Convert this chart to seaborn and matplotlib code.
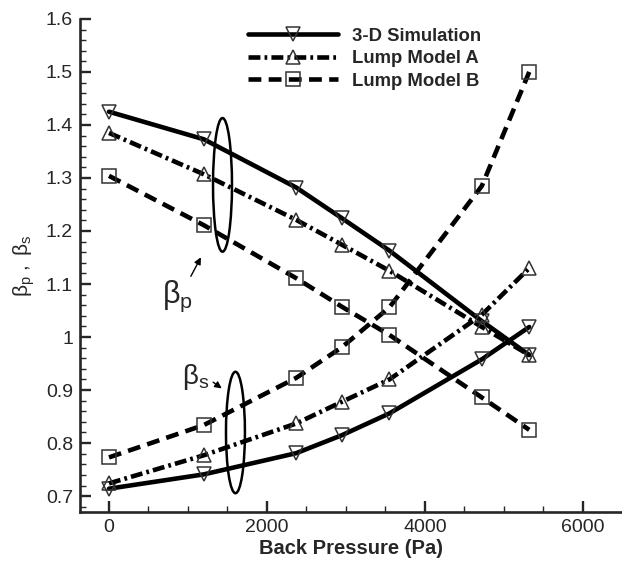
import numpy as np
import pandas as pd
import matplotlib
matplotlib.use("Agg")
import matplotlib.pyplot as plt
from matplotlib.patches import Ellipse
from matplotlib.ticker import MultipleLocator, FuncFormatter
import seaborn as sns

# Back pressure (Pa) at which each case was evaluated
back_pressure = [0, 1200, 2370, 2950, 3550, 4720, 5320]

# Primary-flow coefficient beta_p
beta_p_sim = [1.425, 1.373, 1.282, 1.224, 1.163, 1.030, 0.966]
beta_p_a = [1.385, 1.307, 1.221, 1.174, 1.125, 1.019, 0.966]
beta_p_b = [1.304, 1.211, 1.111, 1.057, 1.004, 0.886, 0.825]

# Secondary-flow coefficient beta_s
beta_s_sim = [0.714, 0.741, 0.781, 0.815, 0.856, 0.958, 1.019]
beta_s_a = [0.724, 0.777, 0.837, 0.878, 0.920, 1.042, 1.130]
beta_s_b = [0.773, 0.834, 0.923, 0.981, 1.056, 1.285, 1.500]

series_names = ["3-D Simulation", "Lump Model A", "Lump Model B"]

sns.set_style("ticks")
plt.rcParams["font.family"] = ["Liberation Sans", "DejaVu Sans"]
plt.rcParams["mathtext.fontset"] = "custom"
plt.rcParams["mathtext.rm"] = "Liberation Sans"
plt.rcParams["mathtext.it"] = "Liberation Sans"

fig = plt.figure(figsize=(6.22, 5.61), dpi=100)
ax = fig.add_axes([0.1286, 0.0873, 0.8714, 0.8790])

lw = 3.3
styles = {
    "3-D Simulation": dict(marker="v", linestyle="-"),
    "Lump Model A": dict(marker="^", linestyle=(0, (2.6, 0.9, 0.6, 0.9))),
    "Lump Model B": dict(marker="s", linestyle=(0, (2.8, 1.6))),
}
curves = {
    "3-D Simulation": (beta_p_sim, beta_s_sim),
    "Lump Model A": (beta_p_a, beta_s_a),
    "Lump Model B": (beta_p_b, beta_s_b),
}

for name in series_names:
    bp, bs = curves[name]
    for k, vals in enumerate((bp, bs)):
        df = pd.DataFrame({"x": back_pressure, "y": vals})
        sns.lineplot(
            data=df, x="x", y="y", ax=ax, sort=False,
            color="black", lw=lw, marker=styles[name]["marker"],
            linestyle=styles[name]["linestyle"],
            markersize=9.5, markerfacecolor="none", markeredgecolor="#333333",
            markeredgewidth=1.1, label=name if k == 0 else None,
        )

ax.set_xlim(-367, 6494)
ax.set_ylim(0.67, 1.6)
ax.xaxis.set_major_locator(MultipleLocator(2000))
ax.xaxis.set_minor_locator(MultipleLocator(500))
ax.yaxis.set_major_locator(MultipleLocator(0.1))
ax.yaxis.set_minor_locator(MultipleLocator(0.02))
ax.yaxis.set_major_formatter(FuncFormatter(lambda v, p: f"{v:g}"))
ax.xaxis.set_major_formatter(FuncFormatter(lambda v, p: f"{v:g}"))

for side in ("top", "right"):
    ax.spines[side].set_visible(False)
for side in ("left", "bottom"):
    ax.spines[side].set_linewidth(1.9)
ax.tick_params(which="major", direction="in", length=8, width=1.7,
               labelsize=14, pad=5)
ax.tick_params(which="minor", direction="in", length=4.5, width=1.0)

ax.set_xlabel("Back Pressure (Pa)", fontsize=14.5, fontweight="bold", labelpad=2)
ax.set_ylabel(r"$\mathrm{\beta_p\ ,\ \beta_s}$", fontsize=15, labelpad=6)

# Group outlines for the two coefficient families
ax.add_patch(Ellipse((1437, 1.287), 240, 0.252, fill=False, lw=1.8, ec="black"))
ax.add_patch(Ellipse((1601, 0.820), 240, 0.229, fill=False, lw=1.8, ec="black"))

ax.text(861, 1.077, r"$\mathrm{\beta_p}$", fontsize=22, ha="center", va="center")
ax.annotate("", xy=(1180, 1.155), xytext=(1020, 1.110),
            arrowprops=dict(arrowstyle="-|>", color="black", lw=1.0,
                            mutation_scale=10))
ax.text(1101, 0.925, r"$\mathrm{\beta_s}$", fontsize=20, ha="center", va="center")
ax.annotate("", xy=(1456, 0.900), xytext=(1290, 0.918),
            arrowprops=dict(arrowstyle="-|>", color="black", lw=1.0,
                            mutation_scale=10))

leg = ax.legend(loc="upper left", bbox_to_anchor=(0.296, 0.997), frameon=False,
                handlelength=4.9, handletextpad=0.75, labelspacing=0.3,
                borderaxespad=0.0, prop=dict(size=13.3, weight="bold"))

fig.savefig("out.png", dpi=100)
